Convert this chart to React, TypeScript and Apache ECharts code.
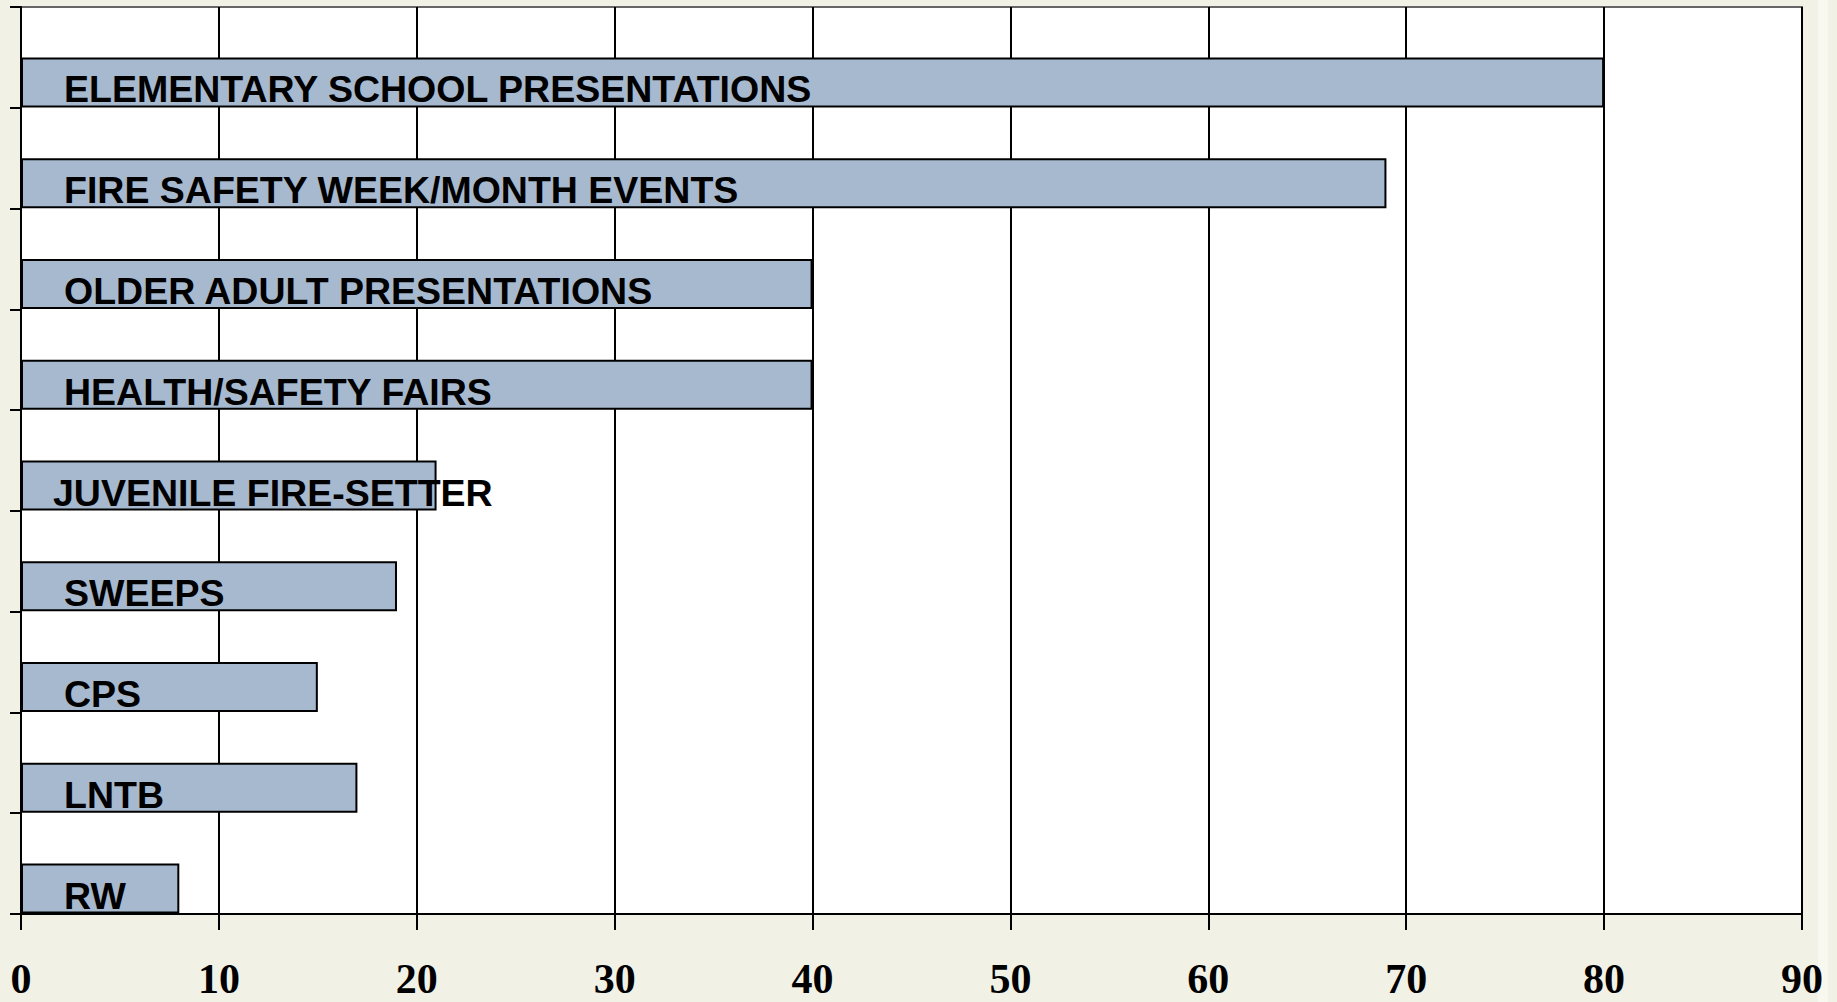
import React, { useEffect, useRef } from "react";
import * as echarts from "echarts";

const categories = [
  "ELEMENTARY SCHOOL PRESENTATIONS",
  "FIRE SAFETY WEEK/MONTH EVENTS",
  "OLDER ADULT PRESENTATIONS",
  "HEALTH/SAFETY FAIRS",
  "JUVENILE FIRE-SETTER",
  "SWEEPS",
  "CPS",
  "LNTB",
  "RW",
];
const values = [80, 69, 40, 40, 21, 19, 15, 17, 8];
const xTicks = { min: 0, max: 90, interval: 10 };

export default function App() {
  const ref = useRef<HTMLDivElement>(null);
  useEffect(() => {
    document.body.style.margin = "0";
    const chart = echarts.init(ref.current!, null, { renderer: "svg" });
    chart.setOption({
      animation: false,
      backgroundColor: "#F2F1E6",
      graphic: [
        {
          type: "rect",
          shape: { x: 1818, y: 0, width: 10, height: 1002 },
          style: { fill: "#F8F8F0" },
          silent: true,
        },
      ],
      grid: {
        left: 21,
        right: 35,
        top: 7,
        bottom: 88,
        show: true,
        backgroundColor: "#FFFFFF",
        borderColor: "#666666",
        borderWidth: 2,
      },
      xAxis: {
        type: "value",
        min: xTicks.min,
        max: xTicks.max,
        interval: xTicks.interval,
        axisLine: { show: true, lineStyle: { color: "#000", width: 2 } },
        axisTick: { show: true, length: 16, lineStyle: { color: "#000", width: 2 } },
        axisLabel: {
          color: "#000",
          fontFamily: "Liberation Serif, Times New Roman, serif",
          fontWeight: "bold",
          fontSize: 42,
          lineHeight: 42,
          margin: 44,
        },
        splitLine: { show: true, lineStyle: { color: "#000", width: 2 } },
      },
      yAxis: {
        type: "category",
        inverse: true,
        data: categories,
        axisLine: { show: true, lineStyle: { color: "#000", width: 2 } },
        axisTick: { show: true, length: 11, lineStyle: { color: "#000", width: 2 } },
        axisLabel: { show: false },
        splitLine: { show: false },
      },
      series: [
        {
          type: "bar",
          data: categories.map(() => "-"),
          barWidth: 50,
          barGap: "0%",
          silent: true,
        },
        {
          type: "bar",
          data: values.map((v, i) =>
            i === 4
              ? { value: v, label: { distance: 32 } }
              : { value: v }
          ),
          barWidth: 50,
          barGap: "0%",
          itemStyle: { color: "#A7B9CE", borderColor: "#000", borderWidth: 2 },
          label: {
            show: true,
            position: "insideLeft",
            distance: 43,
            offset: [0, 7],
            formatter: (p: any) => categories[p.dataIndex],
            color: "#000",
            fontFamily: "Liberation Sans, Arial, sans-serif",
            fontWeight: "bold",
            fontSize: 37.5,
          },
        },
      ],
    });
    return () => chart.dispose();
  }, []);
  return <div ref={ref} style={{ width: 1837, height: 1002 }} />;
}
